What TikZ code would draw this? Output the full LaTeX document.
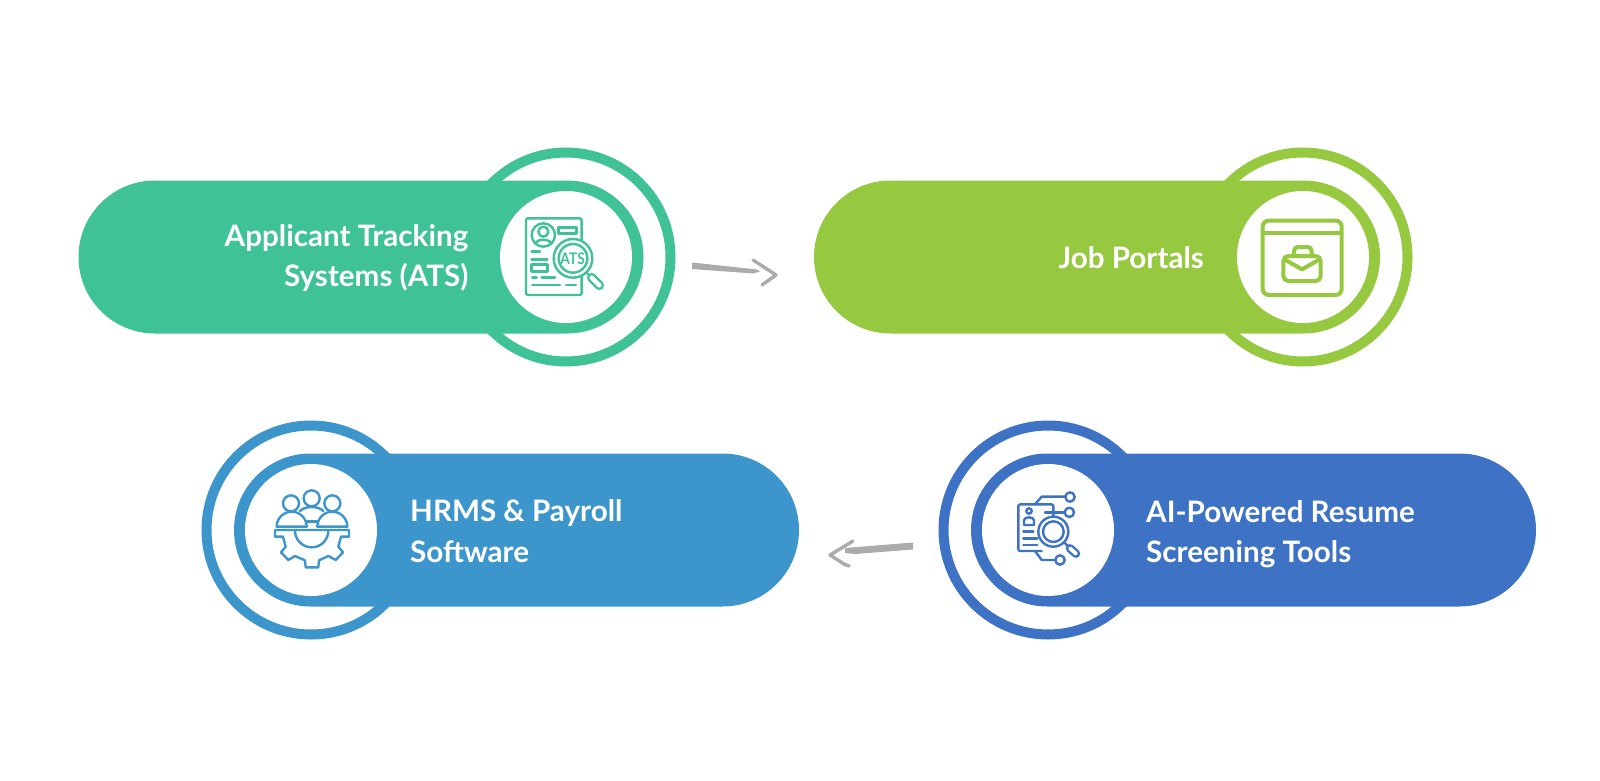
\documentclass[tikz,border=0pt]{standalone}
\usepackage{fontspec}
\setmainfont{Lato}
\usetikzlibrary{calc}
\definecolor{cgreen}{HTML}{3FC296}
\definecolor{clime}{HTML}{96C840}
\definecolor{csky}{HTML}{3C96CB}
\definecolor{cblue}{HTML}{3D72C4}
\definecolor{cgrey}{HTML}{ABABAB}
\tikzset{
  ringc/.style={circle,draw=#1,fill=white,line width=10pt,minimum size=209pt,inner sep=0pt,outer sep=0pt},
  pill/.style={rectangle,fill=#1,rounded corners=76.5pt,minimum height=153pt,inner sep=0pt,outer sep=0pt},
  hole/.style={circle,fill=white,minimum size=132pt,inner sep=0pt,outer sep=0pt},
  label/.style={text=white,font=\fontsize{29.6}{40.5}\selectfont\bfseries,inner sep=0pt},
  ico/.style={draw=#1,line width=2.4pt,line join=round,line cap=round},
  sketch/.style={fill=cgrey,draw=none},
  sketchline/.style={draw=cgrey,line width=3.4pt,line join=round,line cap=round},
}
\begin{document}
\begin{tikzpicture}[x=1pt,y=-1pt]
\useasboundingbox (0,0) rectangle (1600,781);
\fill[white] (0,0) rectangle (1600,781);

% rings
\node[ringc=cgreen] (r1) at (566,257) {};
\node[ringc=clime]  (r2) at (1303,257) {};
\node[ringc=cblue]  (r3) at (1048,530) {};
\node[ringc=csky]   (r4) at (311,530) {};
% pills
\node[pill=cgreen,minimum width=565pt] (p1) at (361,257) {};
\node[pill=clime,minimum width=566pt]  (p2) at (1097,257) {};
\node[pill=cblue,minimum width=565pt]  (p3) at (1253.5,530) {};
\node[pill=csky,minimum width=565pt]   (p4) at (516.5,530) {};
% holes
\node[hole] (h1) at (r1) {};
\node[hole] (h2) at (r2) {};
\node[hole] (h3) at (r3) {};
\node[hole] (h4) at (r4) {};
% labels
\node[label,align=right,anchor=east] (t1) at (468.5,258) {Applicant Tracking\\Systems (ATS)};
\node[label,align=right,anchor=east] (t2) at (1204,258) {Job Portals};
\node[label,align=left,anchor=west] (t3) at (1146,534) {AI-Powered Resume\\Screening Tools};
\node[label,align=left,anchor=west] (t4) at (410,531) {HRMS \& Payroll\\Software};

% arrows
\coordinate (a1s) at (692,266);
\coordinate (a1e) at (761,271);
\coordinate (a1h) at (776,275);
\fill[sketch] ($(a1s)+(0,-3.5)$) -- ($(a1e)+(-4,-1.5)$) -- ($(a1e)+(-1,0.5)$) -- ($(a1e)+(-8,2.5)$) -- ($(a1s)+(0,3)$) -- cycle;
\draw[sketchline] ($(a1h)+(-23,-15)$) -- (a1h) -- ($(a1h)+(-14,10)$);
\coordinate (a2s) at (913,546);
\coordinate (a2e) at (845,551);
\coordinate (a2h) at (830,555);
\fill[sketch] ($(a2s)+(0,-3.5)$) -- ($(a2e)+(0,-3)$) -- ($(a2e)+(0,2)$) -- ($(a2e)+(10,3)$) -- ($(a2s)+(0,3.5)$) -- cycle;
\draw[sketchline] ($(a2h)+(23,-14)$) -- (a2h) -- ($(a2h)+(14,9)$) -- ($(a2h)+(19,11)$);

% ATS icon
\begin{scope}[shift={(490,200)},x=1/3*1pt,y=-1/3*1pt]
\draw[ico=cgreen,rounded corners=2pt] (108,55) rectangle (275,285);
\draw[ico=cgreen] (160,105) circle (35);
\draw[ico=cgreen] (160,95) circle (15);
\draw[ico=cgreen] (137,132) .. controls (137,115) and (183,115) .. (183,132);
\draw[ico=cgreen] (205,82) rectangle (260,100);
\draw[ico=cgreen] (125,155) -- (150,155);
\draw[ico=cgreen] (125,178) -- (172,178);
\draw[ico=cgreen] (125,193) rectangle (172,215);
\draw[ico=cgreen] (127,232) -- (140,232) (155,232) -- (195,232);
\draw[ico=cgreen] (127,255) -- (210,255) (228,255) -- (258,255);
\draw[ico=cgreen,fill=white] (249,175) circle (58);
\draw[ico=cgreen] (249,175) circle (43);
\node[text=cgreen,font=\fontsize{16}{16}\selectfont\bfseries,inner sep=0pt,xscale=0.86] (ats) at (248,175) {ATS};
\draw[ico=cgreen] (290,218) -- (305,233);
\draw[draw=cgreen,line width=9.5pt,line cap=round] (305,233) -- (328,256);
\draw[draw=white,line width=4.5pt,line cap=round] (305,233) -- (328,256);
\end{scope}

% Job portal icon
\begin{scope}[shift={(1230,200)},x=1/3*1pt,y=-1/3*1pt]
\draw[draw=clime,line width=4pt,rounded corners=6pt] (98,62) rectangle (335,285);
\draw[draw=clime,line width=4pt] (98,100) -- (335,100);
\draw[draw=clime,line width=4pt,rounded corners=4pt] (192,166) -- (192,141) -- (245,141) -- (245,166);
\draw[draw=clime,fill=white,line width=4pt,rounded corners=5pt] (160,168) rectangle (272,243);
\draw[draw=clime,line width=4pt,line join=round] (163,178) -- (216,208) -- (269,178);
\end{scope}

% AI icon
\begin{scope}[shift={(1000,475)},x=1/3*1pt,y=-1/3*1pt]
\draw[ico=cblue,rounded corners=2pt] (160,125) -- (160,88) -- (55,88) -- (55,228) -- (125,228);
\draw[ico=cblue] (105,88) -- (125,65) -- (196,65);
\draw[ico=cblue] (210,66) circle (14);
\draw[ico=cblue] (135,112) -- (194,112);
\draw[ico=cblue] (208,112) circle (14);
\draw[ico=cblue] (105,228) -- (125,255) -- (166,255);
\draw[ico=cblue] (180,255) circle (14);
\draw[ico=cblue] (87,108) circle (8);
\draw[ico=cblue] (72,150) -- (72,136) .. controls (72,124) and (102,124) .. (102,136) -- (102,150) -- cycle;
\draw[ico=cblue] (70,170) -- (100,170) (70,190) -- (112,190) (70,210) -- (112,210);
\draw[ico=cblue,fill=white] (160,170) circle (45);
\draw[ico=cblue] (160,170) circle (31);
\draw[ico=cblue] (192,202) -- (205,214);
\draw[draw=cblue,line width=8.5pt,line cap=round] (210,220) -- (228,236);
\draw[draw=white,line width=3.8pt,line cap=round] (210,220) -- (228,236);
\end{scope}

% HRMS icon
\begin{scope}[shift={(255,475)},x=1/3*1pt,y=-1/3*1pt]
\draw[ico=csky] (108,85) circle (24);
\draw[ico=csky] (170,70) circle (24);
\draw[ico=csky] (232,85) circle (24);
\draw[ico=csky] (135,108) .. controls (150,92) and (190,92) .. (205,108);
\draw[ico=csky] (155,140) -- (187,140);
\draw[ico=csky] (65,155) -- (155,155) arc[start angle=0,end angle=-180,radius=45] -- cycle;
\draw[ico=csky] (187,155) -- (277,155) arc[start angle=0,end angle=-180,radius=45] -- cycle;
\draw[ico=csky] (60,165) -- (282,165) -- (282,185) -- (258,185) -- (250,215) -- (264,232) -- (242,255) -- (220,243) -- (192,256) -- (190,277) -- (152,277) -- (150,256) -- (120,243) -- (100,255) -- (78,232) -- (92,215) -- (84,185) -- (60,185) -- cycle;
\draw[ico=csky] (120,167) arc[start angle=180,end angle=0,radius=50];
\end{scope}
\end{tikzpicture}
\end{document}
